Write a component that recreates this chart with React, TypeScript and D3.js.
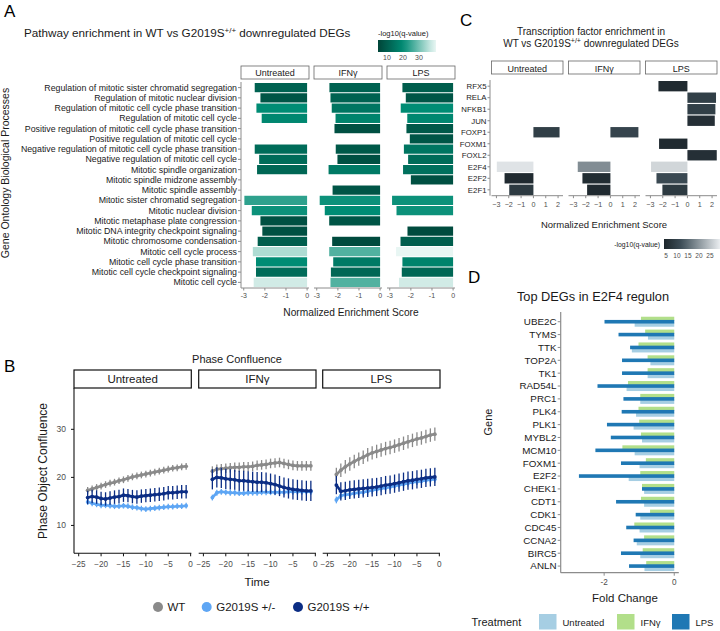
import React from "react";
import * as d3 from "d3";

const FONT = "'Liberation Sans', Arial, Helvetica, sans-serif";
const TREATMENTS = ["Untreated", "IFNγ", "LPS"];

// ---- Panel A: GO pathway enrichment ----
const pathways = [
  "Regulation of mitotic sister chromatid segregation",
  "Regulation of mitotic nuclear division",
  "Regulation of mitotic cell cycle phase transition",
  "Regulation of mitotic cell cycle",
  "Positive regulation of mitotic cell cycle phase transition",
  "Positive regulation of mitotic cell cycle",
  "Negative regulation of mitotic cell cycle phase transition",
  "Negative regulation of mitotic cell cycle",
  "Mitotic spindle organization",
  "Mitotic spindle midzone assembly",
  "Mitotic spindle assembly",
  "Mitotic sister chromatid segregation",
  "Mitotic nuclear division",
  "Mitotic metaphase plate congression",
  "Mitotic DNA integrity checkpoint signaling",
  "Mitotic chromosome condensation",
  "Mitotic cell cycle process",
  "Mitotic cell cycle phase transition",
  "Mitotic cell cycle checkpoint signaling",
  "Mitotic cell cycle",
];
const goNesUntreated = [-2.48, -2.21, -2.4, -2.15, null, null, -2.48, -2.27, -2.37, null, null, -2.97, -2.62, -2.21, -2.12, -2.34, -2.57, -2.42, -2.42, -2.53];
const goNesIFNg = [-2.4, -2.35, -2.29, -2.11, -2.16, null, -2.1, -2.02, -2.44, null, -2.25, -2.86, -2.62, -2.41, null, -2.27, -2.41, -2.22, -2.33, -2.35];
const goNesLPS = [-2.4, -2.24, -2.48, -2.17, -2.21, -2.05, -2.33, -2.13, -2.37, -2.0, null, -2.89, -2.68, null, -2.16, -2.49, -2.7, -2.4, -2.43, -2.56];
const goQUntreated = [11, 8, 20, 19, null, null, 13, 13, 12, null, null, 24, 21, 7, 7, 10, 35, 20, 13, 38];
const goQIFNg = [11, 11, 15, 18, 7, null, 9, 7, 16, null, 8, 21, 20, 8, null, 6, 27, 16, 12, 27];
const goQLPS = [10, 8, 20, 19, 9, 8, 15, 13, 14, 7, null, 21, 21, null, 6, 10, 40, 18, 12, 38];
const goLegendTicks = [10, 20, 30];

// ---- Panel C: transcription factor enrichment ----
const tfs = ["RFX5", "RELA", "NFKB1", "JUN", "FOXP1", "FOXM1", "FOXL2", "E2F4", "E2F2", "E2F1"];
const tfNesUntreated = [null, null, null, null, 2.12, null, null, -2.97, -2.34, -1.96];
const tfNesIFNg = [null, null, null, null, 2.27, null, null, -2.65, -2.27, -1.89];
const tfNesLPS = [-2.35, 2.32, 2.27, 2.22, null, -2.3, 2.38, -2.95, -2.51, -2.03];
const tfQUntreated = [null, null, null, null, 9, null, null, 28.5, 5, 8];
const tfQIFNg = [null, null, null, null, 10, null, null, 19, 5.5, 5];
const tfQLPS = [5, 9, 9, 6, null, 5, 6, 27, 11, 8];
const tfTicks = [-3, -2, -1, 0, 1, 2];
const tfLegendTicks = [5, 10, 15, 20, 25];

// ---- Panel B: phase confluence ----
const times = [-23, -22, -21, -20, -19, -18, -17, -16, -15, -14, -13, -12, -11, -10, -9, -8, -7, -6, -5, -4, -3, -2, -1];
const wtUntreated = [17.3, 17.6, 17.9, 18.2, 18.5, 18.8, 19.0, 19.3, 19.5, 19.8, 20.1, 20.3, 20.5, 20.7, 20.9, 21.1, 21.3, 21.5, 21.7, 21.9, 22.0, 22.2, 22.3];
const hetUntreated = [14.9, 14.6, 14.4, 14.2, 14.2, 14.1, 14.0, 14.0, 14.1, 14.0, 13.8, 13.7, 13.5, 13.4, 13.5, 13.6, 13.7, 13.8, 13.9, 13.9, 14.0, 14.0, 14.1];
const homUntreated = [15.8, 16.0, 15.9, 15.6, 15.5, 15.7, 15.9, 16.0, 16.3, 16.2, 16.0, 15.9, 16.1, 16.2, 16.3, 16.4, 16.5, 16.6, 16.8, 16.8, 16.9, 17.0, 17.0];
const wtIFNg = [21.3, 21.7, 21.8, 21.9, 22.0, 22.1, 22.1, 22.2, 22.2, 22.3, 22.5, 22.6, 22.7, 22.9, 23.0, 23.1, 22.9, 22.7, 22.5, 22.4, 22.4, 22.4, 22.4];
const hetIFNg = [15.8, 16.8, 17.0, 16.9, 16.8, 16.8, 16.7, 16.7, 16.8, 16.8, 16.8, 16.9, 16.9, 16.9, 16.9, 16.9, 16.9, 17.0, 17.0, 17.0, 17.0, 17.0, 17.0];
const homIFNg = [19.6, 20.0, 19.9, 19.7, 19.6, 19.5, 19.3, 19.3, 19.2, 19.1, 19.0, 19.0, 18.9, 18.7, 18.5, 18.2, 17.9, 17.7, 17.5, 17.4, 17.3, 17.2, 17.2];
const wtLPS = [20.6, 21.5, 22.2, 22.8, 23.3, 23.8, 24.2, 24.7, 25.1, 25.4, 25.7, 26.0, 26.2, 26.5, 26.8, 27.1, 27.4, 27.7, 28.0, 28.2, 28.5, 28.8, 29.0];
const hetLPS = [15.3, 16.2, 16.4, 16.5, 16.7, 16.8, 16.9, 17.1, 17.3, 17.5, 17.7, 17.8, 18.0, 18.2, 18.4, 18.6, 18.8, 19.0, 19.1, 19.2, 19.4, 19.5, 19.6];
const homLPS = [18.4, 17.1, 17.2, 17.4, 17.5, 17.6, 17.7, 17.8, 17.9, 18.0, 18.2, 18.4, 18.5, 18.7, 18.9, 19.1, 19.3, 19.4, 19.6, 19.7, 19.9, 20.0, 20.1];
// standard deviations per genotype, per treatment
const sdWT = [0.7, 1.0, 1.4];
const sdHet = [0.6, 0.6, 0.7];
const sdHom = [1.4, 2.1, 1.9];
const genotypes = ["WT", "G2019S +/-", "G2019S +/+"];
const genotypeColors = ["#8a8a8a", "#5ea6f4", "#0b2d84"];
const timeTicks = [-25, -20, -15, -10, -5, 0];
const confTicks = [10, 20, 30];

// ---- Panel D: top DEGs in E2F4 regulon ----
const genes = ["UBE2C", "TYMS", "TTK", "TOP2A", "TK1", "RAD54L", "PRC1", "PLK4", "PLK1", "MYBL2", "MCM10", "FOXM1", "E2F2", "CHEK1", "CDT1", "CDK1", "CDC45", "CCNA2", "BIRC5", "ANLN"];
const fcUntreated = [-1.13, -0.75, -1.21, -0.68, -0.76, -1.36, -0.97, -1.09, -1.16, -0.92, -1.13, -0.99, -1.3, -0.86, -0.86, -0.97, -0.99, -1.07, -0.97, -0.85];
const fcIFNg = [-0.95, -0.83, -1.02, -0.76, -0.76, -1.32, -0.97, -1.02, -1.0, -0.95, -1.48, -0.81, -0.97, -0.92, -0.95, -0.69, -1.14, -0.86, -0.9, -0.8];
const fcLPS = [-1.99, -1.59, -1.26, -1.49, -1.49, -2.19, -1.45, -1.5, -1.92, -1.81, -2.25, -1.52, -2.72, -0.92, -1.66, -1.1, -1.37, -1.16, -1.52, -1.29];
const fcTicks = [-2, 0];
const treatColors = ["#a6cee3", "#b2df8a", "#1f78b4"];

const AXIS_GREY = "#8c8c8c";
const TICK_TEXT = "#4d4d4d";

function PanelA() {
  const sets = [
    { nes: goNesUntreated, q: goQUntreated },
    { nes: goNesIFNg, q: goQIFNg },
    { nes: goNesLPS, q: goQLPS },
  ];
  const panelX = [241, 314, 387];
  const pw = 68;
  const y = d3.scaleBand().domain(pathways).range([83, 287]).paddingInner(0.1);
  const x = d3.scaleLinear().domain([-3.13, 0.09]).range([0, pw]);
  const color = d3
    .scaleLinear<string>()
    .domain([4, 20, 40])
    .range(["#004236", "#008c74", "#e8f6f3"])
    .clamp(true);
  const leg = d3.scaleLinear().domain([4.4, 40.6]).range([378, 436]);
  const stops = d3.range(0, 1.0001, 0.1).map((t) => leg.domain()[0] + t * (leg.domain()[1] - leg.domain()[0]));
  const axisY = 288;
  return (
    <g fontFamily={FONT}>
      <defs>
        <linearGradient id="goGrad" x1="0" x2="1" y1="0" y2="0">
          {stops.map((v, i) => (
            <stop key={i} offset={i / (stops.length - 1)} stopColor={color(v)} />
          ))}
        </linearGradient>
      </defs>
      <text x={4} y={17} fontSize={17}>A</text>
      <text x={24} y={37} fontSize={11.7} fill="#1a1a1a">
        Pathway enrichment in WT vs G2019S
        <tspan dy={-4} fontSize={8}>+/+</tspan>
        <tspan dy={4}> downregulated DEGs</tspan>
      </text>
      {/* legend */}
      <text x={378} y={36} fontSize={7.5} fill="#1a1a1a">-log10(q-value)</text>
      <rect x={leg(4.4)} y={40} width={leg(40.6) - leg(4.4)} height={12} fill="url(#goGrad)" />
      {goLegendTicks.map((t) => (
        <text key={t} x={leg(t)} y={60} fontSize={7} textAnchor="middle" fill={TICK_TEXT}>{t}</text>
      ))}
      {/* y axis */}
      <line x1={241} x2={241} y1={82} y2={axisY} stroke={AXIS_GREY} />
      {pathways.map((p) => {
        const cy = (y(p) ?? 0) + y.bandwidth() / 2;
        return (
          <g key={p}>
            <line x1={238} x2={241} y1={cy} y2={cy} stroke={AXIS_GREY} />
            <text x={237} y={cy + 3} fontSize={8.8} textAnchor="end" fill="#1a1a1a">{p}</text>
          </g>
        );
      })}
      <text transform={`translate(9,173) rotate(-90)`} fontSize={10.5} textAnchor="middle" fill="#1a1a1a">
        Gene Ontology Biological Processes
      </text>
      {sets.map((s, k) => {
        const px = panelX[k];
        return (
          <g key={k}>
            <rect x={px} y={66} width={pw} height={13} fill="#fff" stroke="#666" strokeWidth={0.8} />
            <text x={px + pw / 2} y={76} fontSize={9} textAnchor="middle" fill="#1a1a1a">{TREATMENTS[k]}</text>
            {s.nes.map((v, i) =>
              v == null ? null : (
                <rect
                  key={i}
                  x={px + x(v)}
                  y={y(pathways[i])}
                  width={x(0) - x(v)}
                  height={y.bandwidth()}
                  fill={color(s.q[i] as number)}
                />
              )
            )}
            <line x1={px} x2={px + pw} y1={axisY} y2={axisY} stroke={AXIS_GREY} />
            {[-3, -2, -1, 0].map((t) => (
              <g key={t}>
                <line x1={px + x(t)} x2={px + x(t)} y1={axisY} y2={axisY + 2.5} stroke={AXIS_GREY} />
                <text x={px + x(t)} y={297.5} fontSize={7} textAnchor="middle" fill={TICK_TEXT}>{t}</text>
              </g>
            ))}
          </g>
        );
      })}
      <text x={351} y={316} fontSize={10.2} textAnchor="middle" fill="#1a1a1a">Normalized Enrichment Score</text>
    </g>
  );
}

function PanelC() {
  const sets = [
    { nes: tfNesUntreated, q: tfQUntreated },
    { nes: tfNesIFNg, q: tfQIFNg },
    { nes: tfNesLPS, q: tfQLPS },
  ];
  const panelX = [491.5, 568.5, 645.5];
  const pw = 71.5;
  const y = d3.scaleBand().domain(tfs).range([81, 195]).paddingInner(0.1);
  const x = d3.scaleLinear().domain([-3.4, 2.4]).range([0, pw]);
  const color = d3
    .scaleLinear<string>()
    .domain([4, 12, 30])
    .range(["#1c252a", "#3e4e58", "#eef1f3"])
    .clamp(true);
  const leg = d3.scaleLinear().domain([4.1, 29.6]).range([664, 720]);
  const stops = d3.range(0, 1.0001, 0.1).map((t) => leg.domain()[0] + t * (leg.domain()[1] - leg.domain()[0]));
  const axisY = 195.7;
  return (
    <g fontFamily={FONT}>
      <defs>
        <linearGradient id="tfGrad" x1="0" x2="1" y1="0" y2="0">
          {stops.map((v, i) => (
            <stop key={i} offset={i / (stops.length - 1)} stopColor={color(v)} />
          ))}
        </linearGradient>
      </defs>
      <text x={460} y={26} fontSize={17}>C</text>
      <text x={591} y={35} fontSize={10} textAnchor="middle" fill="#1a1a1a">Transcription factor enrichment  in</text>
      <text x={591} y={47} fontSize={10} textAnchor="middle" fill="#1a1a1a">
        WT vs G2019S
        <tspan dy={-4} fontSize={7}>+/+</tspan>
        <tspan dy={4}> downregulated DEGs</tspan>
      </text>
      <line x1={490} x2={490} y1={80} y2={axisY} stroke={AXIS_GREY} />
      {tfs.map((t) => {
        const cy = (y(t) ?? 0) + y.bandwidth() / 2;
        return (
          <g key={t}>
            <line x1={487.5} x2={490} y1={cy} y2={cy} stroke={AXIS_GREY} />
            <text x={486.5} y={cy + 2.8} fontSize={7.8} textAnchor="end" fill="#1a1a1a">{t}</text>
          </g>
        );
      })}
      {sets.map((s, k) => {
        const px = panelX[k];
        return (
          <g key={k}>
            <rect x={px} y={61} width={pw} height={13} fill="#fff" stroke="#666" strokeWidth={0.8} />
            <text x={px + pw / 2} y={71.5} fontSize={9} textAnchor="middle" fill="#1a1a1a">{TREATMENTS[k]}</text>
            {s.nes.map((v, i) =>
              v == null ? null : (
                <rect
                  key={i}
                  x={px + Math.min(x(v), x(0))}
                  y={y(tfs[i])}
                  width={Math.abs(x(0) - x(v))}
                  height={y.bandwidth()}
                  fill={color(s.q[i] as number)}
                />
              )
            )}
            <line x1={px} x2={px + pw} y1={axisY} y2={axisY} stroke={AXIS_GREY} />
            {tfTicks.map((t) => (
              <g key={t}>
                <line x1={px + x(t)} x2={px + x(t)} y1={axisY} y2={axisY + 2.5} stroke={AXIS_GREY} />
                <text x={px + x(t)} y={207} fontSize={7.2} textAnchor="middle" fill={TICK_TEXT}>
                  {t < 0 ? `\u2212${-t}` : t}
                </text>
              </g>
            ))}
          </g>
        );
      })}
      <text x={604} y={228} fontSize={9.5} textAnchor="middle" fill="#1a1a1a">Normalized Enrichment Score</text>
      {/* legend */}
      <text x={660} y={247} fontSize={6.8} textAnchor="end" fill="#1a1a1a">-log10(q-value)</text>
      <rect x={leg(4.1)} y={239} width={leg(29.6) - leg(4.1)} height={10} fill="url(#tfGrad)" />
      {tfLegendTicks.map((t) => (
        <text key={t} x={leg(t)} y={258} fontSize={6.5} textAnchor="middle" fill={TICK_TEXT}>{t}</text>
      ))}
    </g>
  );
}

function PanelB() {
  const facets = [
    { series: [wtUntreated, hetUntreated, homUntreated] },
    { series: [wtIFNg, hetIFNg, homIFNg] },
    { series: [wtLPS, hetLPS, homLPS] },
  ];
  const sds = [sdWT, sdHet, sdHom];
  const panelX = [74, 198.7, 322.7];
  const pw = 117.3;
  const x = d3.scaleLinear().domain([-26.05, 0.15]).range([0, pw]);
  const y = d3.scaleLinear().domain([4.2, 38.6]).range([553.3, 388]);
  const axisY = 553.3;
  return (
    <g fontFamily={FONT}>
      <text x={4} y={372} fontSize={17}>B</text>
      <text x={237} y={363} fontSize={11} textAnchor="middle" fill="#1a1a1a">Phase Confluence</text>
      <line x1={74} x2={74} y1={388} y2={axisY} stroke="#111" strokeWidth={1.1} />
      {confTicks.map((t) => (
        <g key={t}>
          <line x1={71} x2={74} y1={y(t)} y2={y(t)} stroke="#111" />
          <text x={66} y={y(t) + 3} fontSize={8.5} textAnchor="end" fill={TICK_TEXT}>{t}</text>
        </g>
      ))}
      <text transform={`translate(47,471) rotate(-90)`} fontSize={12} textAnchor="middle" fill="#1a1a1a">
        Phase Object Confluence
      </text>
      {facets.map((f, k) => {
        const px = panelX[k];
        return (
          <g key={k}>
            <rect x={px} y={370} width={pw} height={18} fill="#fff" stroke="#111" strokeWidth={1.2} />
            <text x={px + pw / 2} y={383} fontSize={11.5} textAnchor="middle" fill="#1a1a1a">{TREATMENTS[k]}</text>
            {f.series.map((vals, g) => {
              const line = d3
                .line<number>()
                .x((_, i) => px + x(times[i]))
                .y((v) => y(v));
              const sd = sds[g][k];
              return (
                <g key={g}>
                  <path d={line(vals) ?? ""} fill="none" stroke={genotypeColors[g]} strokeWidth={2.6} />
                  {vals.map((v, i) => (
                    <g key={i}>
                      <line
                        x1={px + x(times[i])}
                        x2={px + x(times[i])}
                        y1={y(v - sd)}
                        y2={y(v + sd)}
                        stroke={genotypeColors[g]}
                        strokeWidth={1.3}
                      />
                      <circle cx={px + x(times[i])} cy={y(v)} r={1.9} fill={genotypeColors[g]} />
                    </g>
                  ))}
                </g>
              );
            })}
            <line x1={px} x2={px + pw} y1={axisY} y2={axisY} stroke="#111" strokeWidth={1.1} />
            {timeTicks.map((t) => (
              <g key={t}>
                <line x1={px + x(t)} x2={px + x(t)} y1={axisY} y2={axisY + 3} stroke="#111" />
                <text x={px + x(t)} y={566.5} fontSize={8.2} textAnchor="middle" fill={TICK_TEXT}>
                  {t < 0 ? `\u2212${-t}` : t}
                </text>
              </g>
            ))}
          </g>
        );
      })}
      <text x={257} y={586} fontSize={11.5} textAnchor="middle" fill="#1a1a1a">Time</text>
      {genotypes.map((gname, g) => {
        const lx = [158, 206.7, 298][g];
        return (
          <g key={gname}>
            <circle cx={lx} cy={607} r={5} fill={genotypeColors[g]} />
            <text x={lx + 9.5} y={611} fontSize={11.5} fill="#1a1a1a">{gname}</text>
          </g>
        );
      })}
    </g>
  );
}

function PanelD() {
  const sets = [fcUntreated, fcIFNg, fcLPS];
  const y = d3.scaleBand().domain(genes).range([315.3, 572.5]);
  const x = d3.scaleLinear().domain([-3.24, 0.13]).range([560.7, 678.8]);
  // offsets inside a row: untreated below, IFNγ above, LPS in the middle on top
  const rows = [
    { set: 0, dy: 0.8, h: 4.2 },
    { set: 1, dy: -5, h: 4.2 },
    { set: 2, dy: -1.8, h: 3.6 },
  ];
  const axisY = 572.7;
  return (
    <g fontFamily={FONT}>
      <text x={468} y={283} fontSize={17}>D</text>
      <text x={593} y={301} fontSize={12.8} textAnchor="middle" fill="#1a1a1a">Top DEGs in E2F4 regulon</text>
      <line x1={560.7} x2={560.7} y1={312} y2={axisY} stroke={AXIS_GREY} strokeWidth={1.2} />
      {genes.map((gname) => {
        const cy = (y(gname) ?? 0) + y.bandwidth() / 2;
        return (
          <g key={gname}>
            <line x1={557.7} x2={560.7} y1={cy} y2={cy} stroke={AXIS_GREY} />
            <text x={556.5} y={cy + 3.4} fontSize={9.8} textAnchor="end" fill="#1a1a1a">{gname}</text>
          </g>
        );
      })}
      {rows.map((r) =>
        sets[r.set].map((v, i) => {
          const cy = (y(genes[i]) ?? 0) + y.bandwidth() / 2;
          return (
            <rect
              key={`${r.set}-${i}`}
              x={x(v)}
              y={cy + r.dy}
              width={x(0) - x(v)}
              height={r.h}
              fill={treatColors[r.set]}
            />
          );
        })
      )}
      <line x1={560.7} x2={678.8} y1={axisY} y2={axisY} stroke={AXIS_GREY} strokeWidth={1.2} />
      {fcTicks.map((t) => (
        <g key={t}>
          <line x1={x(t)} x2={x(t)} y1={axisY} y2={axisY + 3} stroke={AXIS_GREY} />
          <text x={x(t)} y={585} fontSize={8.2} textAnchor="middle" fill={TICK_TEXT}>{t}</text>
        </g>
      ))}
      <text x={625} y={602} fontSize={11.5} textAnchor="middle" fill="#1a1a1a">Fold Change</text>
      <text transform={`translate(492,422) rotate(-90)`} fontSize={11} textAnchor="middle" fill="#1a1a1a">Gene</text>
      <text x={471.5} y={626} fontSize={11} fill="#1a1a1a">Treatment</text>
      {TREATMENTS.map((t, k) => {
        const sx = [539, 617, 672][k];
        return (
          <g key={t}>
            <rect x={sx} y={614} width={17.5} height={15.5} fill={treatColors[k]} />
            <text x={sx + 23.5} y={625.5} fontSize={9.5} fill="#1a1a1a">{t}</text>
          </g>
        );
      })}
    </g>
  );
}

export default function App() {
  return (
    <svg
      width={720}
      height={631}
      viewBox="0 0 720 631"
      style={{ position: "absolute", left: 0, top: 0, background: "#fff" }}
    >
      <rect width={720} height={631} fill="#fff" />
      <PanelA />
      <PanelC />
      <PanelB />
      <PanelD />
    </svg>
  );
}
